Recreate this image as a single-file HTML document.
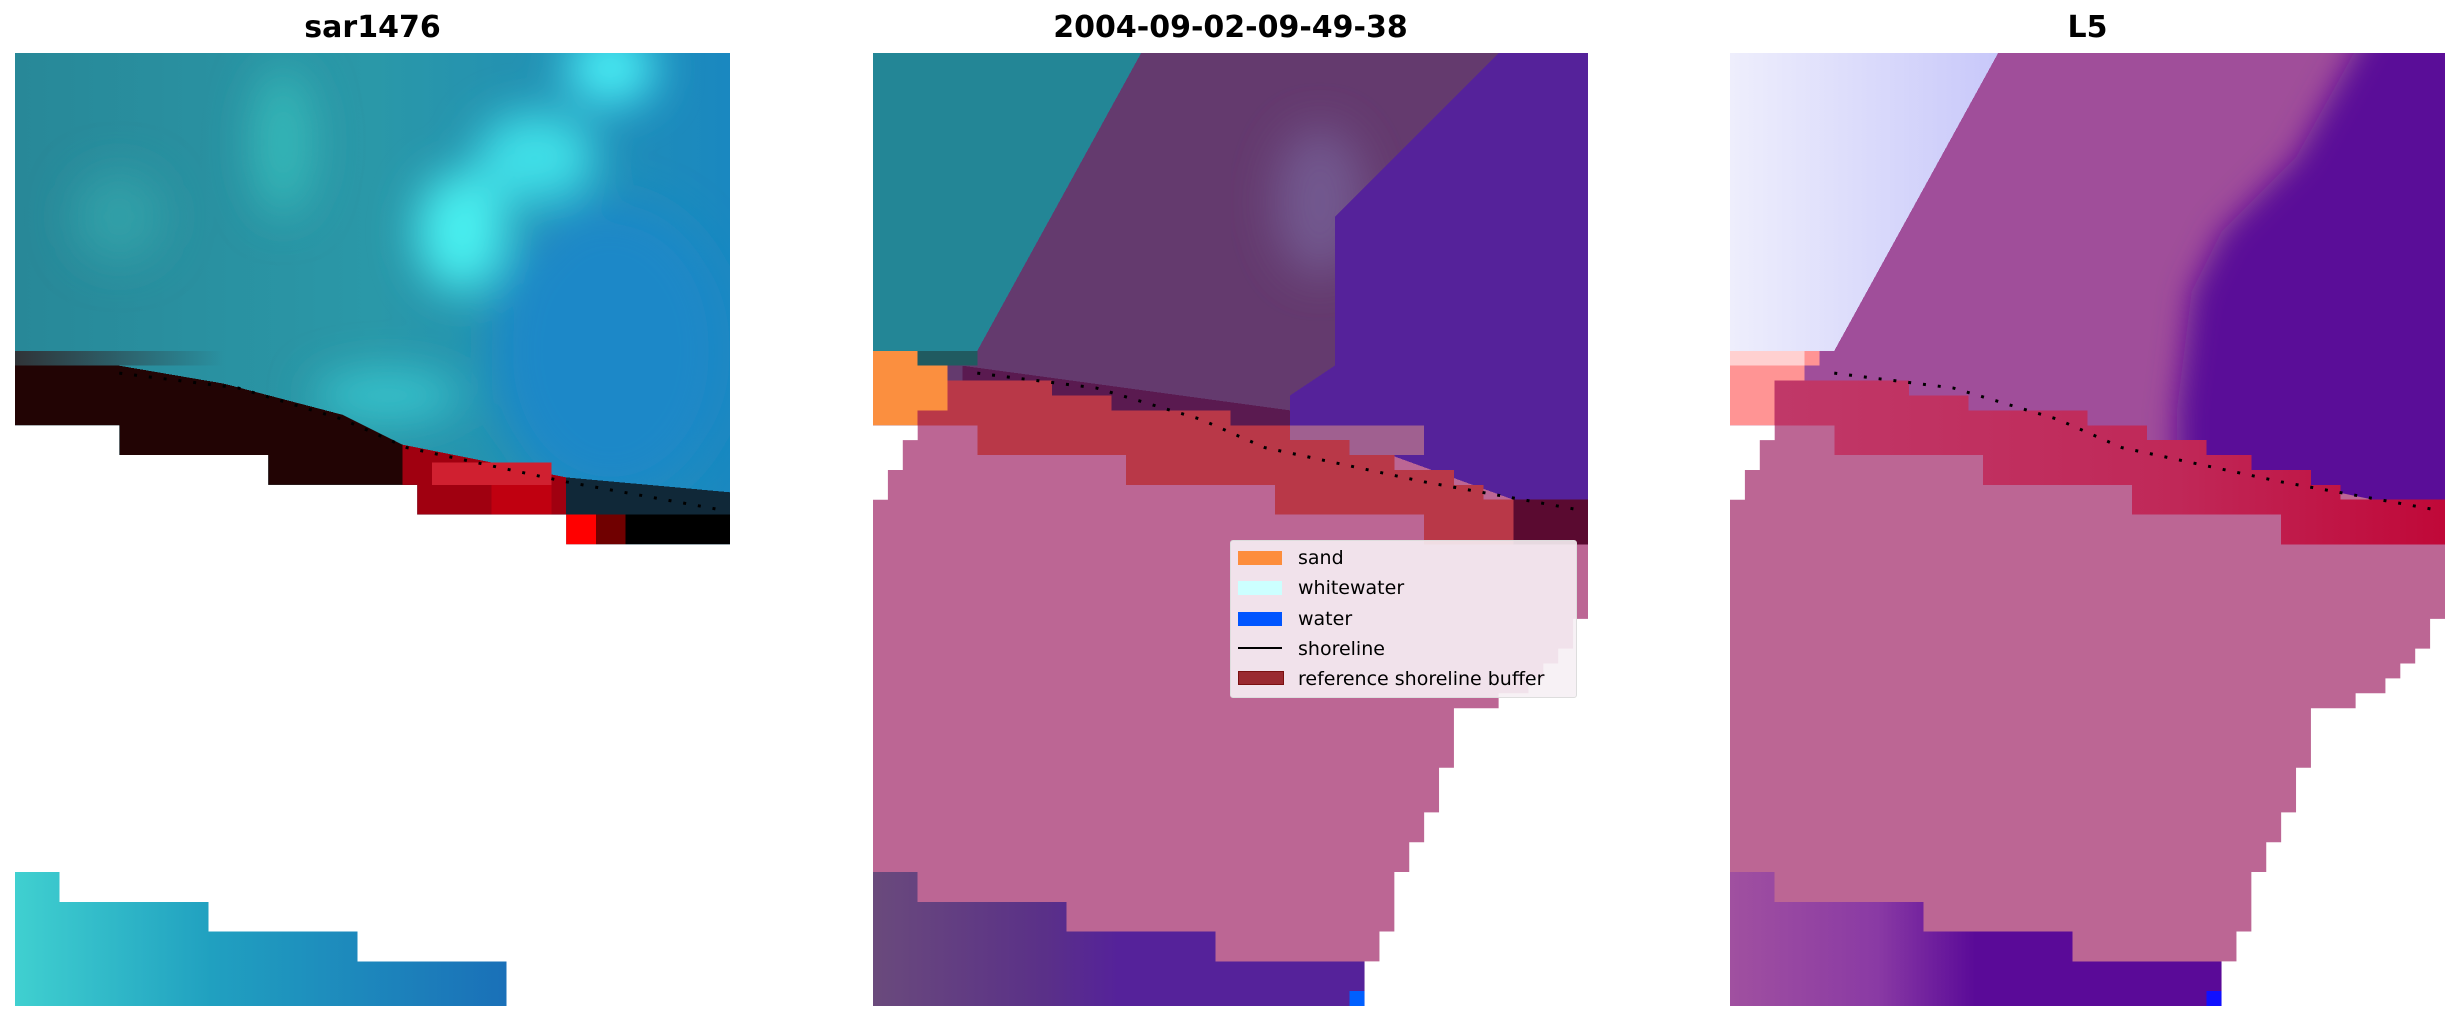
<!DOCTYPE html>
<html><head><meta charset="utf-8"><style>
body{margin:0;width:2460px;height:1021px;background:#fff;position:relative;overflow:hidden;font-family:"DejaVu Sans","Liberation Sans",sans-serif}
.t{position:absolute;top:10px;font-weight:bold;font-size:30px;text-align:center;color:#000}
svg{position:absolute;top:53px;width:715px;height:953px}
.lg{position:absolute;left:1230px;top:540px;width:345px;height:156px;background:rgba(246,240,244,0.9);border:1px solid #ddd;border-radius:3px;font-size:19px;color:#000}
.lg div{position:absolute;left:67px;line-height:20px}
.lg span{position:absolute;left:7px;width:44px;height:14px}
</style></head><body>
<div class="t" style="left:15px;width:715px">sar1476</div>
<div class="t" style="left:873px;width:715px">2004-09-02-09-49-38</div>
<div class="t" style="left:1730px;width:715px">L5</div>

<svg viewBox="0 0 48 64" preserveAspectRatio="none" shape-rendering="crispEdges" style="left:15px">
<defs><linearGradient id="g1" x1="0" x2="1"><stop offset="0" stop-color="#288898"/><stop offset="0.5" stop-color="#2a98a8"/><stop offset="1" stop-color="#1a88c0"/></linearGradient>
<linearGradient id="g1b" x1="0" x2="1"><stop offset="0" stop-color="#40d0d0"/><stop offset="0.4" stop-color="#20a0c0"/><stop offset="1" stop-color="#1a70b8"/></linearGradient>
<linearGradient id="gs" x1="0" x2="1"><stop offset="0" stop-color="#303438"/><stop offset="1" stop-color="#303438" stop-opacity="0"/></linearGradient>
<filter id="bl" x="-50%" y="-50%" width="200%" height="200%"><feGaussianBlur stdDeviation="1.5"/></filter>
<clipPath id="c1"><path d="M0 0H48V33H37V31H27V29H17V27H7V25H0Z"/></clipPath></defs>
<g clip-path="url(#c1)">
<rect width="48" height="33" fill="url(#g1)"/>
<g filter="url(#bl)">
<ellipse cx="30" cy="12" rx="3" ry="4" fill="#48f0f0"/>
<ellipse cx="35" cy="7" rx="4" ry="3" fill="#40e0e8"/>
<ellipse cx="40" cy="1" rx="3" ry="2.5" fill="#48eef5"/>
<ellipse cx="18" cy="6" rx="2" ry="5" fill="#34b8b8"/>
<ellipse cx="25" cy="23" rx="5" ry="1.5" fill="#38c8d0"/>
<ellipse cx="7" cy="11" rx="3" ry="3" fill="#30a0a8"/>
<ellipse cx="40" cy="20" rx="8" ry="10" fill="#1a88c8"/>
</g>
<rect x="0" y="20" width="14" height="1" fill="url(#gs)"/>
<polygon points="0,21 7,21 14,22.2 22,24.3 26,26.3 27,27 27,29 17,29 17,27 7,27 7,25 0,25" fill="#220404"/>
<polygon points="26,26.3 37,28.5 37,31 27,31 27,29 26,29" fill="#a00010"/>
<rect x="28" y="27.5" width="8" height="1.5" fill="#d02030"/>
<rect x="32" y="29" width="4" height="2" fill="#c00010"/>
<polygon points="37,28.5 48,29.5 48,31 37,31" fill="#102838"/>
<rect x="37" y="31" width="2" height="2" fill="#ff0000"/><rect x="39" y="31" width="2" height="2" fill="#700000"/>
<rect x="41" y="31" width="7" height="2" fill="#000"/>
</g>
<path d="M0 55H3V57H13V59H23V61H33V64H0Z" fill="url(#g1b)"/>
<polyline points="7,21.5 15,22.5 22,24.6 26.3,26.5 37,28.8 47.5,30.7" fill="none" stroke="#000" stroke-width="0.2" stroke-dasharray="0.2 0.8" shape-rendering="auto"/>
</svg>

<svg viewBox="0 0 48 64" preserveAspectRatio="none" shape-rendering="crispEdges" style="left:873px">
<defs><clipPath id="m2"><path d="M0 0H48V38H47V40H46V41H45V42H44V43H42V44H39V48H38V51H37V53H36V55H35V59H34V61H33V64H0V30H1V28H2V26H3V25H0Z"/></clipPath>
<linearGradient id="b2" x1="0" x2="1"><stop offset="0" stop-color="#6a4a7c"/><stop offset="0.35" stop-color="#5a3088"/><stop offset="0.5" stop-color="#55229a"/></linearGradient>
<filter id="bl2" x="-50%" y="-50%" width="200%" height="200%"><feGaussianBlur stdDeviation="1.5"/></filter></defs>
<g clip-path="url(#m2)">
<rect width="48" height="64" fill="#bc6694"/>
<rect width="48" height="25" fill="#643a6e"/>
<ellipse cx="30" cy="10" rx="3" ry="5" fill="#72588f" filter="url(#bl2)"/>
<polygon points="0,0 18,0 7,20 0,20" fill="#238696"/>
<rect x="0" y="20" width="7" height="1" fill="#205a60"/>
<polygon points="42,0 48,0 48,30 43,30 32,26 28,25 28,23 31,21 31,11" fill="#55229a"/>
<rect x="28" y="25" width="9" height="2" fill="#a06090"/>
<polygon points="6,21 28,24 28,25 6,25" fill="#5a1a50"/>
<polygon points="3,22 12,22 12,23 16,23 16,24 24,24 24,25 28,25 28,26 32,26 32,27 35,27 35,28 39,28 39,29 41,29 41,30 43,30 43,33 37,33 37,31 27,31 27,29 17,29 17,27 7,27 7,25 3,25" fill="#b93848"/>
<rect x="43" y="30" width="5" height="3" fill="#5a0a30"/>
<polygon points="0,20 3,20 3,21 5,21 5,24 3,24 3,25 0,25" fill="#fb8f3f"/>
<path d="M0 55H3V57H13V59H23V61H33V64H0Z" fill="url(#b2)"/>
<rect x="32" y="63" width="1" height="1" fill="#0060ff"/>
</g>
<polyline points="7,21.5 15,22.5 22,24.6 26.3,26.5 37,28.8 47.5,30.7" fill="none" stroke="#000" stroke-width="0.2" stroke-dasharray="0.2 0.8" shape-rendering="auto"/>
</svg>

<svg viewBox="0 0 48 64" preserveAspectRatio="none" shape-rendering="crispEdges" style="left:1730px">
<defs><clipPath id="m3"><path d="M0 0H48V38H47V40H46V41H45V42H44V43H42V44H39V48H38V51H37V53H36V55H35V59H34V61H33V64H0V30H1V28H2V26H3V25H0Z"/></clipPath>
<clipPath id="t3"><polygon points="0,0 48,0 48,31 24,26 24,25 0,25"/></clipPath>
<filter id="bl3" x="-20%" y="-20%" width="140%" height="140%"><feGaussianBlur stdDeviation="1"/></filter>
<linearGradient id="w3" x1="0" x2="1"><stop offset="0" stop-color="#eeeefc"/><stop offset="1" stop-color="#c8c8fa"/></linearGradient>
<linearGradient id="r3" x1="0" x2="1"><stop offset="0" stop-color="#c03868"/><stop offset="0.6" stop-color="#c02858"/><stop offset="1" stop-color="#c00838"/></linearGradient>
<linearGradient id="b3" x1="0" x2="1"><stop offset="0" stop-color="#a050a0"/><stop offset="0.3" stop-color="#8a3aa4"/><stop offset="0.5" stop-color="#5a0a98"/></linearGradient></defs>
<g clip-path="url(#m3)">
<rect width="48" height="64" fill="#bc6694"/>
<g clip-path="url(#t3)">
<rect width="48" height="32" fill="#a04e9a"/>
<polygon points="43,-2 50,-2 50,34 30,31 30,24 31,16 33,12 38,7" fill="#5a0a98" filter="url(#bl3)"/>
</g>
<polygon points="0,0 18,0 7,20 0,20" fill="url(#w3)"/>
<polygon points="0,20 6,20 6,21 5,21 5,22 4,22 4,24 0,24" fill="#ff9898"/>
<rect x="0" y="20" width="5" height="1" fill="#ffd0d0"/>
<polygon points="3,22 12,22 12,23 16,23 16,24 24,24 24,25 28,25 28,26 32,26 32,27 35,27 35,28 39,28 39,29 41,29 41,30 48,30 48,33 37,33 37,31 27,31 27,29 17,29 17,27 7,27 7,25 3,25" fill="url(#r3)"/>
<polygon points="0,20 6,20 6,21 5,21 5,22 3,22 3,25 0,25" fill="#ff9494"/>
<rect x="0" y="20" width="5" height="1" fill="#ffd0d0"/>
<path d="M0 55H3V57H13V59H23V61H33V64H0Z" fill="url(#b3)"/>
<rect x="32" y="63" width="1" height="1" fill="#1010ff"/>
</g>
<polyline points="7,21.5 15,22.5 22,24.6 26.3,26.5 37,28.8 47.5,30.7" fill="none" stroke="#000" stroke-width="0.2" stroke-dasharray="0.2 0.8" shape-rendering="auto"/>
</svg>

<div class="lg">
<span style="top:10px;background:#fd8d3c"></span><div style="top:7px">sand</div>
<span style="top:40px;background:#ccffff"></span><div style="top:37px">whitewater</div>
<span style="top:71px;background:#0055ff"></span><div style="top:68px">water</div>
<span style="top:106px;height:2px;background:#000"></span><div style="top:98px">shoreline</div>
<span style="top:130px;height:12px;background:#9a2a30;border:1px solid #7a1010"></span><div style="top:128px">reference shoreline buffer</div>
</div>
</body></html>
